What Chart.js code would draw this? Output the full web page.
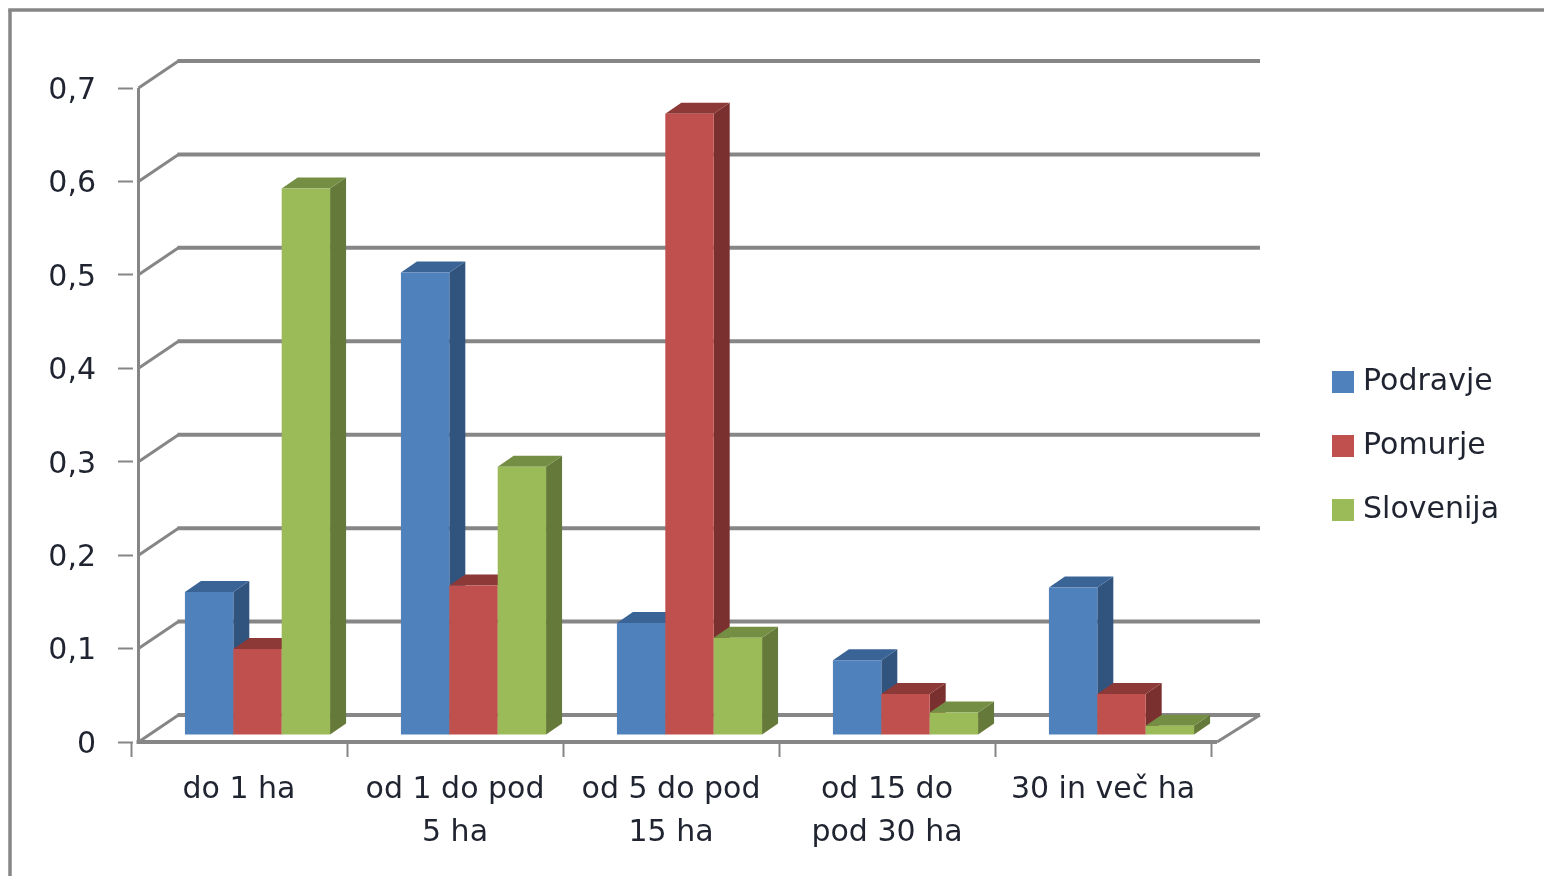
<!DOCTYPE html>
<html><head><meta charset="utf-8">
<style>html,body{margin:0;padding:0;background:#fff;overflow:hidden}canvas{display:block}</style>
<script src="https://cdn.jsdelivr.net/npm/chart.js@4"></script></head>
<body><canvas id="c" width="1544" height="876"></canvas>
<script>
const categories = [['do 1 ha'], ['od 1 do pod', '5 ha'], ['od 5 do pod', '15 ha'], ['od 15 do', 'pod 30 ha'], ['30 in več ha']];
const podravje = [0.153, 0.495, 0.120, 0.080, 0.158];
const pomurje = [0.092, 0.160, 0.665, 0.044, 0.044];
const slovenija = [0.585, 0.287, 0.104, 0.024, 0.010];
const yTickLabels = ['0', '0,1', '0,2', '0,3', '0,4', '0,5', '0,6', '0,7'];

const FONT = '"DejaVu Sans", sans-serif';
const FONT_SIZE = 30;
const TEXT = '#1f2430';
const AXIS = '#868686';
const shade = [
  {front: '#4F81BD', side: '#31547F', top: '#3A6495'},
  {front: '#C0504D', side: '#7A302E', top: '#8C3937'},
  {front: '#9BBB59', side: '#65793A', top: '#748E43'}
];
const BAR_SHIFT = {x: 18.5, y: -7}, BAR_DEPTH = {x: 16, y: -11}, WALL = {x: 40, y: -27};

function poly(ctx, pts, fill) {
  ctx.beginPath();
  pts.forEach((p, i) => i ? ctx.lineTo(p[0], p[1]) : ctx.moveTo(p[0], p[1]));
  ctx.closePath();
  ctx.fillStyle = fill;
  ctx.fill();
}
function line(ctx, x1, y1, x2, y2, w) {
  ctx.beginPath();
  ctx.moveTo(x1, y1);
  ctx.lineTo(x2, y2);
  ctx.lineWidth = w;
  ctx.strokeStyle = AXIS;
  ctx.stroke();
}

const bars3d = {
  id: 'bars3d',
  afterLayout(chart) {
    const lg = chart.legend, y = chart.scales.y;
    y.left += 2; y.right += 2;
    lg.left = 1304; lg.right = 1544; lg.top = 333; lg.bottom = 680;
  },
  beforeDraw(chart) {
    const ctx = chart.ctx;
    ctx.save();
    ctx.fillStyle = '#fff';
    ctx.fillRect(0, 0, chart.width, chart.height);
    line(ctx, 10, 876, 10, 10, 3.5);
    line(ctx, 8.25, 10, 1544, 10, 3.5);
    ctx.restore();
  },
  beforeDatasetsDraw(chart) {
    const ctx = chart.ctx, y = chart.scales.y;
    const front = chart.chartArea.left + 7.5;
    const right = chart.chartArea.right + 6;
    ctx.save();
    y.ticks.forEach(t => {
      const py = y.getPixelForValue(t.value);
      line(ctx, front, py, front + WALL.x, py + WALL.y, 3);
      line(ctx, front + WALL.x - 1, py + WALL.y, 1260, py + WALL.y, 4);
    });
    const p0 = y.getPixelForValue(0);
    line(ctx, right, p0, 1260, p0 + WALL.y, 3);
    line(ctx, front, y.getPixelForValue(0.7), front, p0 + 1, 3);
    line(ctx, front - 2, p0, right, p0, 4);
    ctx.restore();
  },
  // Native drawing runs last dataset first; the 3D overlap needs first dataset first.
  beforeDatasetDraw() { return false; },
  afterDatasetsDraw(chart) {
    const ctx = chart.ctx;
    ctx.save();
    ctx.translate(BAR_SHIFT.x, BAR_SHIFT.y);
    chart.data.datasets.forEach((ds, i) => {
      const c = shade[i];
      chart.getDatasetMeta(i).data.forEach(b => {
        const l = b.x - b.width / 2, r = b.x + b.width / 2, dx = BAR_DEPTH.x, dy = BAR_DEPTH.y;
        poly(ctx, [[r, b.y], [r + dx, b.y + dy], [r + dx, b.base + dy], [r, b.base]], c.side);
        poly(ctx, [[l, b.y], [l + dx, b.y + dy], [r + dx, b.y + dy], [r, b.y]], c.top);
        b.draw(ctx);
      });
    });
    ctx.restore();
  }
};

new Chart(document.getElementById('c'), {
  type: 'bar',
  data: {
    labels: categories,
    datasets: [
      {label: 'Podravje', data: podravje, backgroundColor: shade[0].front},
      {label: 'Pomurje', data: pomurje, backgroundColor: shade[1].front},
      {label: 'Slovenija', data: slovenija, backgroundColor: shade[2].front}
    ]
  },
  plugins: [bars3d],
  options: {
    responsive: false,
    animation: false,
    layout: {padding: {top: 88, right: 333, bottom: 0, left: 0}},
    datasets: {bar: {barPercentage: 1, categoryPercentage: 0.672}},
    plugins: {
      tooltip: {enabled: false},
      legend: {
        position: 'chartArea',
        align: 'start',
        labels: {
          usePointStyle: true, pointStyle: 'rect', boxWidth: 10, boxHeight: 22,
          padding: 34, color: TEXT, font: {family: FONT, size: FONT_SIZE}
        }
      }
    },
    scales: {
      x: {
        afterFit: s => { s.height = 134; },
        grid: {drawOnChartArea: false, drawTicks: true, tickLength: 15, tickColor: AXIS, tickWidth: 2, offset: true},
        border: {display: false},
        ticks: {color: TEXT, font: {family: FONT, size: FONT_SIZE, lineHeight: 1.433}, maxRotation: 0, autoSkip: false, padding: 12}
      },
      y: {
        min: 0, max: 0.7,
        afterFit: s => { s.width = 131; },
        grid: {drawOnChartArea: false, drawTicks: true, tickLength: 15, tickColor: AXIS, tickWidth: 2},
        border: {display: false},
        ticks: {
          stepSize: 0.1, color: TEXT, font: {family: FONT, size: FONT_SIZE}, padding: 22, labelOffset: 3,
          callback: (v, i) => yTickLabels[i]
        }
      }
    }
  }
});
</script></body></html>
